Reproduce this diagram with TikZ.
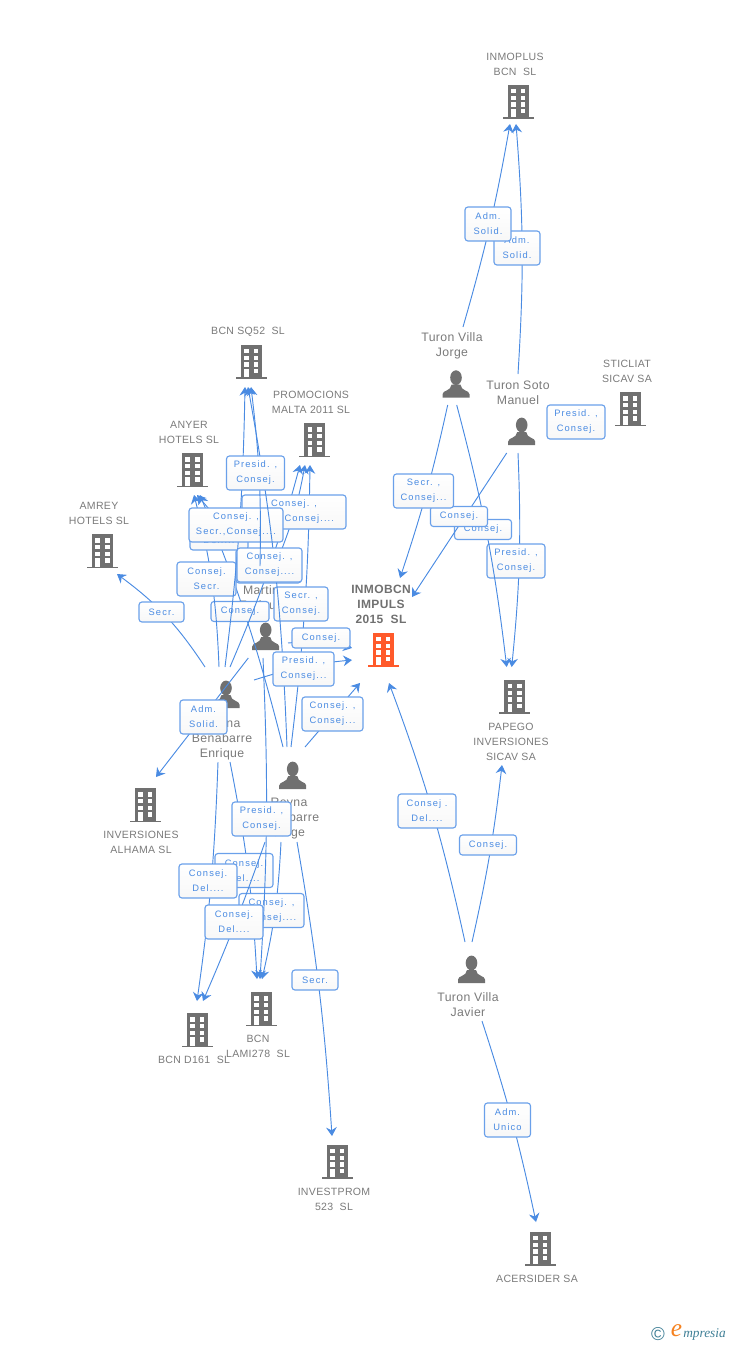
\documentclass[tikz,border=0pt]{standalone}
\usepackage{fontspec}
\setmainfont{Liberation Sans}
\newfontfamily\linkfont[LetterSpace=12]{Liberation Sans}
\newfontfamily\namefont[LetterSpace=3]{Liberation Sans}
\newfontfamily\logofont{Liberation Serif}
\usetikzlibrary{arrows.meta}
\definecolor{bldgray}{HTML}{707070}
\definecolor{bldorange}{HTML}{FF5A2B}
\definecolor{linkblue}{HTML}{4A8BE2}
\definecolor{boxblue}{HTML}{6AA0EA}
\definecolor{namegray}{HTML}{7A7A7A}
\definecolor{logoteal}{HTML}{3F7F96}
\definecolor{logoorange}{HTML}{F58220}
\tikzset{
    entframe/.style={inner sep=0pt, outer sep=0pt},
    nametext/.style={font=\namefont\fontsize{7.9}{11.25}\selectfont, text=namegray, align=center, inner sep=0pt, yshift=-0.5pt},
    persontext/.style={nametext, font=\namefont\fontsize{9.2}{11.25}\selectfont, yshift=-0.6pt},
    link/.style={draw=linkblue, line width=0.7pt, -{Stealth[length=6.5pt,width=8pt,inset=2.2pt]}},
    linkbox/.style={draw=boxblue, line width=0.85pt, rounded corners=2.2pt, top color=white, bottom color=black!3,
        font=\linkfont\fontsize{7}{11.25}\selectfont, text=linkblue, align=center, inner sep=0pt, minimum height=25.5pt},
    onerow/.style={minimum height=15pt},
    wd/.style={minimum width=#1*0.75pt},
    pics/building/.style={code={
        \fill[#1] (-10.5,-17) rectangle (10.5,15.3);
        \fill[#1] (-15.5,15.3) rectangle (15.5,17);
        \foreach \wy in {-13,-6.3,0.3,7} \fill[white] (2.6,\wy) rectangle (7.3,\wy+4.3);
        \foreach \wy in {-13,-6.3,0.3} \fill[white] (-7,\wy) rectangle (-2.3,\wy+4.3);
        \fill[white] (-7,7) rectangle (-2.3,15.3);
    }},
    pics/person/.style={code={
        \fill[bldgray] (0,-7) ellipse (5.8 and 7.4);
        \fill[bldgray] (-13.5,13) -- (-13.5,9.5) .. controls (-13.5,5.5) and (-5,6.5) .. (-4.5,0) -- (4.5,0)
            .. controls (5,6.5) and (13.5,5.5) .. (13.5,9.5) -- (13.5,13) -- cycle;
    }},
}
\begin{document}
\begin{tikzpicture}[x=0.75pt, y=-0.75pt]
    \useasboundingbox (0,0) rectangle (728,1345);

    % Icons
    \foreach \x/\y in {518/102,251/362,314.5/440.3,192.2/470.3,102.2/551.3,630/409.3,514.5/697,145/805.3,197/1030.3,261/1009.3,337/1162,540/1249}
        \pic at (\x,\y) {building=bldgray};
    \pic at (383,650) {building=bldorange};
    \foreach \x/\y in {456/384.7,521.7/432,265.7/637,226/695,292.7/776,471.5/970}
        \pic at (\x,\y) {person};

    % Frames the links stop at
    \foreach \id/\x/\y/\w/\h in {
        inmoplus/515/86/50/76, sqbcn/248/355/76/64, promocions/311/425.5/86/79,
        anyer/189/455.5/64/79, amrey/99/535.5/60/77, sticliat/627/394/54/78,
        inmobcn/382/630.5/60/105, papego/511/716/78/98, alhama/141.5/817.5/73/81,
        dbcn/194.5/1034.5/75/67, lami/258.5/1020.5/67/83, investprom/334/1175/72/78,
        acersider/537/1254/82/64, jorge/452.5/366/65/78, soto/518/413.5/64/79,
        martin/264/612/48/92, enrique/222/714.5/64/95, reynajorge/289/794.5/66/95,
        javier/468/981.5/68/79}
        \node[entframe, minimum width=\w*0.75pt, minimum height=\h*0.75pt] (\id) at (\x,\y) {};

    % Names
    \foreach \id/\x/\y/\txt in {
        inmoplus/515/63.5/{INMOPLUS\\BCN\ \ SL}, sqbcn/248/331/{BCN SQ52\ \ SL},
        promocions/311/401.5/{PROMOCIONS\\MALTA 2011 SL}, anyer/189/431.5/{ANYER\\HOTELS SL},
        amrey/99/512.5/{AMREY\\HOTELS SL}, sticliat/627/370.5/{STICLIAT\\SICAV SA},
        papego/511/741/{PAPEGO\\INVERSIONES\\SICAV SA}, alhama/141/841.5/{INVERSIONES\\ALHAMA SL},
        dbcn/194/1059/{BCN D161\ \ SL}, lami/258/1045.5/{BCN\\LAMI278\ \ SL},
        investprom/334/1198.5/{INVESTPROM\\523\ \ SL}, acersider/537/1278/{ACERSIDER SA}}
        \node[nametext] (\id-txt) at (\x,\y) {\txt};
    \foreach \id/\x/\y/\txt in {
        jorge/452/344.5/{Turon Villa\\Jorge}, soto/518/391.5/{Turon Soto\\Manuel},
        martin/261/597.5/{Martin\\Enrique}, enrique/222/738/{Reyna\\Benabarre\\Enrique},
        reynajorge/289/817/{Reyna\\Benabarre\\Jorge}, javier/468/1003.5/{Turon Villa\\Javier}}
        \node[persontext] (\id-txt) at (\x,\y) {\txt};
    \node[nametext, font=\namefont\bfseries\fontsize{9}{11.25}\selectfont, text=bldgray] (inmobcn-txt) at (381,604) {INMOBCN\\IMPULS\\2015\ \ SL};

    % Turon side, top
    \draw[link] (soto.north) to[bend right=4] ([shift={(1,0)}]inmoplus.south);
    \node[linkbox, wd=46] (lblsotoplus) at (517,248) {Adm.\\Solid.};
    \draw[link] ([shift={(10.5,0)}]jorge.north) to[bend right=3] ([shift={(-5,0)}]inmoplus.south);
    \node[linkbox, wd=46] (lbljorgeplus) at (488,224) {Adm.\\Solid.};
    \node[linkbox, wd=58] (lblsotosticliat) at (576,422) {Presid. ,\\Consej.};

    % Turon side, middle
    \draw[link] (soto.south) to[bend left=4] ([shift={(0.7,0)}]papego.north);
    \node[linkbox, wd=58] (lblsotopapego) at (516,561) {Presid. ,\\Consej.};
    \draw[link] ([shift={(4.2,0)}]jorge.south) to[bend left=4] ([shift={(-4.3,0)}]papego.north);
    \node[linkbox, onerow, wd=57] (lbljorgepapego) at (483,529.5) {Consej.};
    \draw[link] ([shift={(-11.3,0)}]soto.south) -- ([shift={(0,-33.5)}]inmobcn.east);
    \node[linkbox, onerow, wd=57] (lblsotoinmo) at (459,516.5) {Consej.};
    \draw[link] ([shift={(-4.8,0)}]jorge.south) to[bend left=3] ([shift={(18,0)}]inmobcn.north);
    \node[linkbox, wd=60] (lbljorgeinmo) at (423.5,491) {Secr. ,\\Consej...};

    % Javier
    \draw[link] ([shift={(-3,0)}]javier.north) to[bend right=4] ([shift={(7,0)}]inmobcn.south);
    \node[linkbox, wd=58] (lbljavierinmo) at (427,811) {Consej .\\Del....};
    \draw[link] ([shift={(4,0)}]javier.north) to[bend right=3] ([shift={(-9,0)}]papego.south);
    \node[linkbox, onerow, wd=57] (lbljavierpapego) at (488,845) {Consej.};
    \draw[link] ([shift={(14,0)}]javier.south) to[bend left=3] ([shift={(-1,0)}]acersider.north);
    \node[linkbox, wd=46] (lbljavieracer) at (507.5,1120) {Adm.\\Unico};

    % Reyna side, going up
    \draw[link] ([shift={(-17,0)}]enrique.north) to[bend right=10] ([shift={(18,0)}]amrey.south);
    \node[linkbox, onerow, wd=45] (lblenriqueamrey) at (161.5,612) {Secr.};
    \draw[link] ([shift={(-6,0)}]reynajorge.north) to[bend right=4] ([shift={(11,0)}]anyer.south);
    \node[linkbox, onerow, wd=58] (lblreynaanyer) at (240,611.5) {Consej.};
    \draw[link] ([shift={(-3,0)}]enrique.north) to[bend right=6] ([shift={(5,0)}]anyer.south);
    \node[linkbox, wd=59] (lblenriqueanyer) at (206.5,579) {Consej.\\Secr.};
    \draw[link] ([shift={(2,0)}]reynajorge.north) to[bend right=3] ([shift={(-1,0)}]promocions.south);
    \node[linkbox, wd=54] (lblreynapromo) at (301,604) {Secr. ,\\Consej.};
    \draw[link] ([shift={(8,0)}]enrique.north) to[bend right=4] ([shift={(-11,0)}]promocions.south);
    \node[linkbox, wd=65] (lblenriquepromo) at (268.5,566) {Consej. ,\\Consej....};
    \draw[link] ([shift={(11,0)}]martin.north) to[bend right=6] ([shift={(-6,0)}]promocions.south);
    \node[linkbox, wd=104] (lblmartinpromo) at (294,512) {Consej. ,\\Secr.,Consej....};
    \draw[link] ([shift={(-6,0)}]martin.north) -- ([shift={(8,0)}]anyer.south);
    \node[linkbox, wd=58] (lblmartinanyer) at (219,533) {Consej.\\Del....};
    \draw[link] ([shift={(3,0)}]enrique.north) to[bend right=3] ([shift={(-3,0)}]sqbcn.south);
    \node[linkbox, wd=94] (lblenriquesq) at (236,525) {Consej. ,\\Secr.,Consej....};
    \draw[link] ([shift={(-2,0)}]reynajorge.north) to[bend right=4] (sqbcn.south);
    \node[linkbox, wd=65] (lblreynasq) at (269.5,565) {Consej. ,\\Consej....};
    \draw[link] ([shift={(-4,0)}]martin.north) to[bend right=4] ([shift={(3,0)}]sqbcn.south);
    \node[linkbox, wd=58] (lblmartinsq) at (255.5,473) {Presid. ,\\Consej.};

    % To the orange one
    \draw[link] ([shift={(0,31)}]martin.east) to[bend left=10] ([shift={(0,17.5)}]inmobcn.west);
    \node[linkbox, onerow, wd=58] (lblmartininmo) at (321,638) {Consej.};
    \draw[link] ([shift={(0,-34.5)}]enrique.east) to[bend left=6] ([shift={(0,29.5)}]inmobcn.west);
    \node[linkbox, wd=61] (lblenriqueinmo) at (303.5,669) {Presid. ,\\Consej...};
    \draw[link] ([shift={(16,0)}]reynajorge.north) -- ([shift={(-22,0)}]inmobcn.south);
    \node[linkbox, wd=61] (lblreynainmo) at (332.5,714) {Consej. ,\\Consej...};
    \draw[link] ([shift={(-15.7,0)}]martin.south) -- ([shift={(14.5,0)}]alhama.north);
    \node[linkbox, wd=47] (lblmartinalhama) at (203.5,717) {Adm.\\Solid.};

    % Reyna side, going down
    \draw[link] ([shift={(8,0)}]enrique.south) to[bend left=4] ([shift={(-1.5,0)}]lami.north);
    \node[linkbox, wd=58] (lblenriquelami) at (244,870.5) {Consej.\\Del....};
    \draw[link] ([shift={(-4,0)}]enrique.south) to[bend left=3] ([shift={(2.5,0)}]dbcn.north);
    \node[linkbox, wd=58] (lblenriqued) at (208,881) {Consej.\\Del....};
    \draw[link] ([shift={(-8,0)}]reynajorge.south) to[bend left=5] ([shift={(3.5,0)}]lami.north);
    \node[linkbox, wd=65] (lblreynalami) at (271.5,910.5) {Consej. ,\\Consej....};
    \draw[link] ([shift={(-1,0)}]martin.south) to[bend left=3] ([shift={(1.5,0)}]lami.north);
    \node[linkbox, wd=59] (lblmartinlami) at (261.5,819) {Presid. ,\\Consej.};
    \draw[link] ([shift={(-24,0)}]reynajorge.south) to[bend left=2] ([shift={(8.5,0)}]dbcn.north);
    \node[linkbox, wd=58] (lblreynad) at (234,922) {Consej.\\Del....};
    \draw[link] ([shift={(8,0)}]reynajorge.south) to[bend left=3] ([shift={(-2,0)}]investprom.north);
    \node[linkbox, onerow, wd=46] (lblreynainvest) at (315,980) {Secr.};

    % Logo
    \node[inner sep=0pt, text=logoteal, font=\fontsize{14}{14}\selectfont] (logoc) at (658,1334) {\textcopyright};
    \node[inner sep=0pt, text=logoorange, font=\logofont\itshape\fontsize{19}{19}\selectfont] (logoe) at (676.5,1331) {e};
    \node[inner sep=0pt, text=logoteal, font=\logofont\itshape\fontsize{10}{10}\selectfont, anchor=west] (logotxt) at (683,1334) {mpresia};
\end{tikzpicture}
\end{document}
